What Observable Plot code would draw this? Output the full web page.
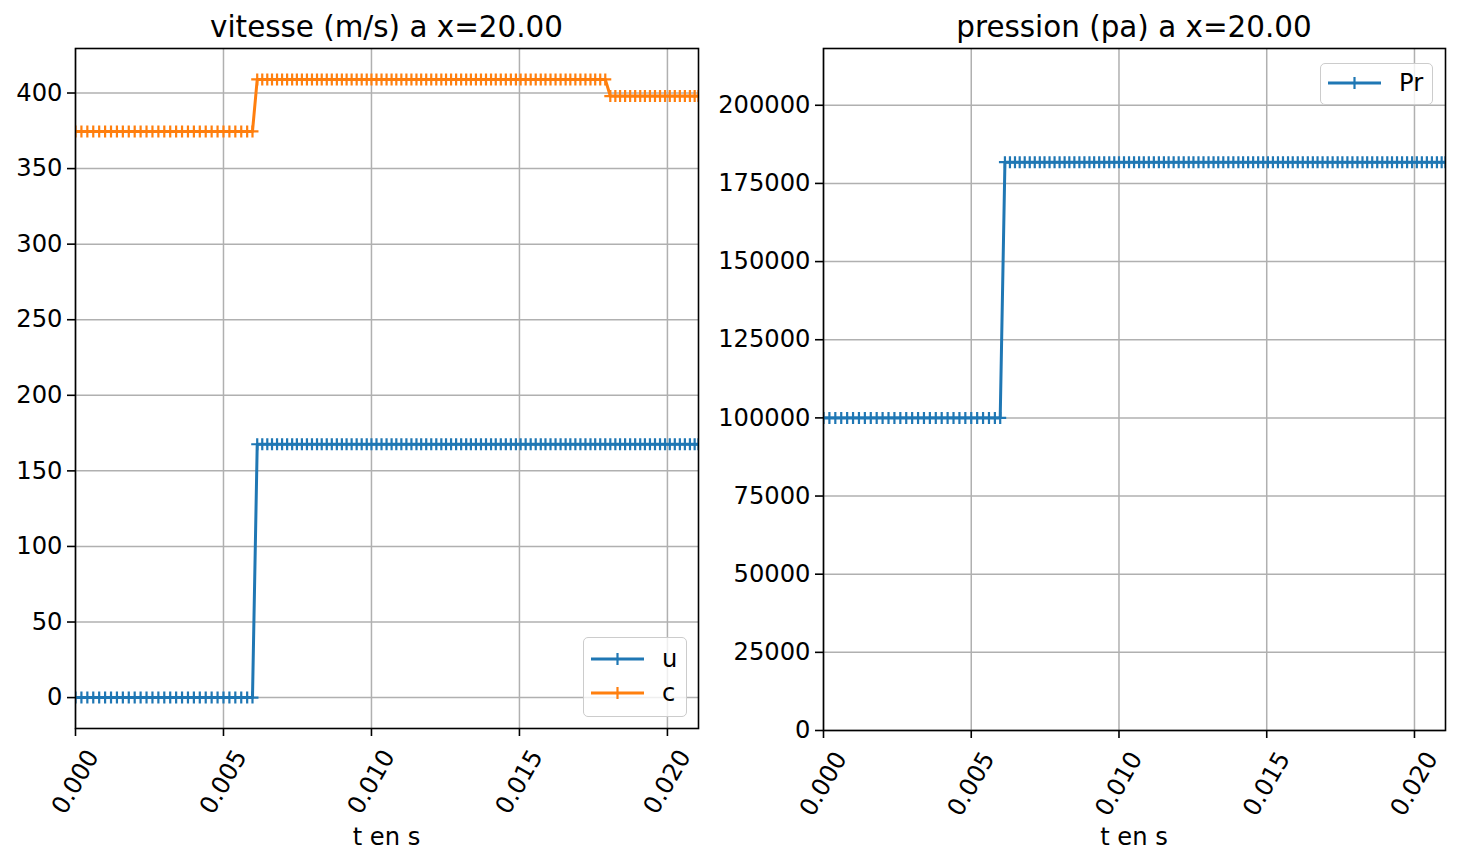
<!DOCTYPE html>
<html>
<head>
<meta charset="utf-8">
<script src="https://cdn.jsdelivr.net/npm/d3@7"></script>
<script src="https://cdn.jsdelivr.net/npm/@observablehq/plot@0.6"></script>
<style>
  html, body { margin: 0; padding: 0; background: #fff; }
  #root { position: relative; width: 1460px; height: 864px; font-family: "DejaVu Sans", sans-serif; color: #000; overflow: hidden; }
  .abs { position: absolute; }
  .title { font-size: 29.4px; line-height: 29.4px; white-space: nowrap; text-align: center; }
  .xlabel { font-size: 24.2px; line-height: 24.2px; white-space: nowrap; text-align: center; }
  .legend { background: rgba(255,255,255,0.8); border: 1.5px solid #cccccc; border-radius: 5px; box-sizing: border-box; }
  .legrow { position: absolute; left: 0; height: 34px; display: flex; align-items: center; font-size: 24.2px; }
</style>
</head>
<body>
<div id="root"></div>
<script>
// ---- data (times in milliseconds) ----
// sample times before the shock reaches x = 20
const tSeg1 = [0, 0.2, 0.4, 0.6, 0.8, 1.0, 1.2, 1.4, 1.6, 1.8, 2.0, 2.2, 2.4, 2.6, 2.8, 3.0,
  3.2, 3.4, 3.6, 3.8, 4.0, 4.2, 4.4, 4.6, 4.8, 5.0, 5.2, 5.4, 5.6, 5.8, 5.98];
// after the shock
const tSeg2 = [6.14, 6.31, 6.48, 6.64, 6.81, 6.98, 7.15, 7.32, 7.48, 7.65, 7.82, 7.99, 8.16, 8.32,
  8.49, 8.66, 8.83, 9.00, 9.16, 9.33, 9.50, 9.67, 9.84, 10.00, 10.17, 10.34, 10.51, 10.68, 10.84,
  11.01, 11.18, 11.35, 11.52, 11.68, 11.85, 12.02, 12.19, 12.36, 12.52, 12.69, 12.86, 13.03, 13.20,
  13.36, 13.53, 13.70, 13.87, 14.04, 14.20, 14.37, 14.54, 14.71, 14.88, 15.04, 15.21, 15.38, 15.55,
  15.72, 15.88, 16.05, 16.22, 16.39, 16.56, 16.72, 16.89, 17.06, 17.23, 17.40, 17.56, 17.73, 17.90];
// after the second (sound-speed) change
const tSeg3 = [18.07, 18.24, 18.40, 18.57, 18.74, 18.91, 19.08, 19.24, 19.41, 19.58, 19.75, 19.92,
  20.08, 20.25, 20.42, 20.59, 20.76, 20.92, 21.05];

const uLevels = [0, 167.6, 167.6];         // vitesse u (m/s) per segment
const cLevels = [374.6, 409.0, 398.0];     // vitesse du son c (m/s) per segment
const prLevels = [100000, 181800, 181800]; // pression (Pa) per segment

const xTicks = [0, 0.005, 0.010, 0.015, 0.020];
const yTicksV = [0, 50, 100, 150, 200, 250, 300, 350, 400];
const yTicksP = [0, 25000, 50000, 75000, 100000, 125000, 150000, 175000, 200000];

const titleV = "vitesse (m/s) a x=20.00";
const titleP = "pression (pa) a x=20.00";
const xLabel = "t en s";

const BLUE = "#1f77b4", ORANGE = "#ff7f0e";

// ---- build tables ----
const segs = [tSeg1, tSeg2, tSeg3];
function series(levels) {
  const out = [];
  segs.forEach((seg, i) => seg.forEach(ms => out.push({t: ms / 1000, v: levels[i]})));
  return out;
}
const uData = series(uLevels);
const cData = series(cLevels);
const pData = series(prLevels);

const plusSymbol = {
  draw(ctx, size) {
    const r = Math.sqrt(size / Math.PI);
    ctx.moveTo(-r, 0); ctx.lineTo(r, 0);
    ctx.moveTo(0, -r); ctx.lineTo(0, r);
  }
};

const xDomain = d3.extent(uData, d => d.t);
const FS = 24.2;

function panel({width, ml, mr, mt, mb, yDomain, yTicks, datasets}) {
  const marks = [
    Plot.gridX(xTicks, {stroke: "#b0b0b0", strokeOpacity: 1, strokeWidth: 1.5}),
    Plot.gridY(yTicks, {stroke: "#b0b0b0", strokeOpacity: 1, strokeWidth: 1.5}),
  ];
  for (const ds of datasets) {
    marks.push(Plot.line(ds.data, {x: "t", y: "v", stroke: ds.color, strokeWidth: 3, clip: true}));
    marks.push(Plot.dot(ds.data, {x: "t", y: "v", symbol: plusSymbol, r: 6, stroke: ds.color,
      fill: "none", strokeWidth: 2.2, clip: true}));
  }
  marks.push(
    Plot.axisY(yTicks, {tickSize: 8, tickPadding: 5, fontSize: FS, strokeWidth: 1.6,
      tickFormat: d3.format("d"), label: null, stroke: "black"}),
    Plot.axisX(xTicks, {tickSize: 8, strokeWidth: 1.6, tickFormat: () => "", label: null, stroke: "black"}),
    Plot.text(xTicks, {x: d => d, text: d3.format(".3f"), frameAnchor: "bottom", dy: 53.5,
      rotate: -60, textAnchor: "middle", lineAnchor: "middle", fontSize: FS, fill: "black"}),
    Plot.frame({stroke: "black", strokeWidth: 1.6})
  );
  return Plot.plot({
    width, height: 864,
    marginLeft: ml, marginRight: mr, marginTop: mt, marginBottom: mb,
    style: {fontFamily: "DejaVu Sans", fontSize: FS + "px", background: "transparent", color: "black", overflow: "visible"},
    x: {domain: xDomain, range: [ml, width - mr], axis: null},
    y: {domain: yDomain, axis: null},
    marks
  });
}

const root = document.getElementById("root");

// left: velocities
const vMax = d3.max([...uData, ...cData], d => d.v), vMin = d3.min([...uData, ...cData], d => d.v);
const vPad = 0.05 * (vMax - vMin);
const left = panel({width: 720, ml: 75, mr: 22, mt: 48, mb: 136,
  yDomain: [vMin - vPad, vMax + vPad], yTicks: yTicksV,
  datasets: [{data: uData, color: BLUE}, {data: cData, color: ORANGE}]});
left.style.position = "absolute"; left.style.left = "0px"; left.style.top = "0px";
root.appendChild(left);

// right: pressure
const pMax = d3.max(pData, d => d.v);
const right = panel({width: 760, ml: 123, mr: 15, mt: 48, mb: 134,
  yDomain: [0, 1.2 * pMax], yTicks: yTicksP,
  datasets: [{data: pData, color: BLUE}]});
right.style.position = "absolute"; right.style.left = "700px"; right.style.top = "0px";
root.appendChild(right);

// titles and x labels
function addText(cls, text, cx, top, w) {
  const d = document.createElement("div");
  d.className = "abs " + cls;
  d.textContent = text;
  d.style.left = (cx - w / 2) + "px";
  d.style.width = w + "px";
  d.style.top = top + "px";
  root.appendChild(d);
}
addText("title", titleV, 386.5, 13, 600);
addText("title", titleP, 1134, 13, 600);
addText("xlabel", xLabel, 386.5, 825, 300);
addText("xlabel", xLabel, 1134, 825, 300);

// legends
function legend(x, y, w, h, entries, textX) {
  const box = document.createElement("div");
  box.className = "abs legend";
  Object.assign(box.style, {left: x + "px", top: y + "px", width: w + "px", height: h + "px"});
  entries.forEach((e, i) => {
    const row = document.createElement("div");
    row.className = "legrow";
    row.style.top = (e.top) + "px";
    row.style.width = w + "px";
    row.innerHTML = `<svg width="${textX}" height="34" style="flex:none"><line x1="7" x2="60" y1="17" y2="17" stroke="${e.color}" stroke-width="3"/><line x1="33.5" x2="33.5" y1="11" y2="23" stroke="${e.color}" stroke-width="2.2"/></svg><span>${e.label}</span>`;
    box.appendChild(row);
  });
  root.appendChild(box);
}
legend(583, 637, 104, 80, [
  {label: "u", color: BLUE, top: 4},
  {label: "c", color: ORANGE, top: 38}
], 78);
legend(1320, 63, 113, 42, [
  {label: "Pr", color: BLUE, top: 2}
], 78);
</script>
</body>
</html>
